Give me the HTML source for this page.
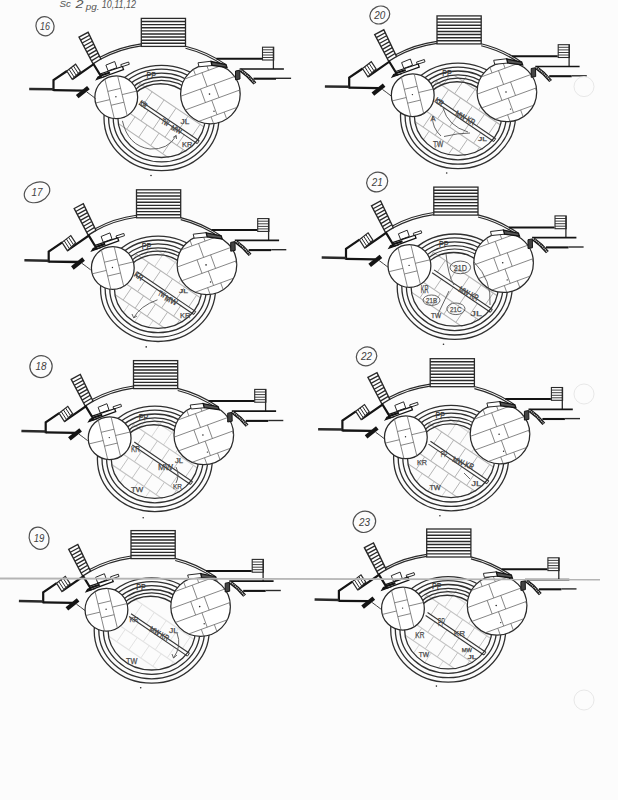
<!DOCTYPE html>
<html><head><meta charset="utf-8"><style>
html,body{margin:0;padding:0;background:#fcfcfc;}
svg{display:block;font-family:"Liberation Sans",sans-serif;}
</style></head><body>
<svg width="618" height="800" viewBox="0 0 618 800">
<rect width="618" height="800" fill="#fcfcfc"/>
<defs><g id="grid"><clipPath id="cI"><ellipse cx="161.5" cy="118.1" rx="43.7" ry="40.5"/></clipPath><g clip-path="url(#cI)"><line x1="90.89" y1="50.19" x2="239.76" y2="151.36" stroke="#b4b4b4" stroke-width="1.1" /><line x1="73.85" y1="75.25" x2="222.73" y2="176.42" stroke="#b4b4b4" stroke-width="1.1" /><line x1="65.42" y1="87.65" x2="214.30" y2="188.83" stroke="#b4b4b4" stroke-width="1.1" /><line x1="56.15" y1="26.58" x2="48.05" y2="38.49" stroke="#b4b4b4" stroke-width="1.0" /><line x1="68.14" y1="34.73" x2="60.05" y2="46.64" stroke="#b4b4b4" stroke-width="1.0" /><line x1="80.13" y1="42.88" x2="72.04" y2="54.79" stroke="#b4b4b4" stroke-width="1.0" /><line x1="92.13" y1="51.03" x2="84.03" y2="62.94" stroke="#b4b4b4" stroke-width="1.0" /><line x1="104.12" y1="59.18" x2="96.02" y2="71.09" stroke="#b4b4b4" stroke-width="1.0" /><line x1="116.11" y1="67.33" x2="108.02" y2="79.24" stroke="#b4b4b4" stroke-width="1.0" /><line x1="128.10" y1="75.48" x2="120.01" y2="87.39" stroke="#b4b4b4" stroke-width="1.0" /><line x1="140.10" y1="83.63" x2="132.00" y2="95.54" stroke="#b4b4b4" stroke-width="1.0" /><line x1="152.09" y1="91.78" x2="144.00" y2="103.69" stroke="#b4b4b4" stroke-width="1.0" /><line x1="164.08" y1="99.93" x2="155.99" y2="111.84" stroke="#b4b4b4" stroke-width="1.0" /><line x1="176.07" y1="108.08" x2="167.98" y2="119.99" stroke="#b4b4b4" stroke-width="1.0" /><line x1="188.07" y1="116.23" x2="179.97" y2="128.14" stroke="#b4b4b4" stroke-width="1.0" /><line x1="200.06" y1="124.38" x2="191.97" y2="136.29" stroke="#b4b4b4" stroke-width="1.0" /><line x1="212.05" y1="132.53" x2="203.96" y2="144.44" stroke="#b4b4b4" stroke-width="1.0" /><line x1="224.05" y1="140.68" x2="215.95" y2="152.59" stroke="#b4b4b4" stroke-width="1.0" /><line x1="236.04" y1="148.83" x2="227.94" y2="160.74" stroke="#b4b4b4" stroke-width="1.0" /><line x1="248.03" y1="156.98" x2="239.94" y2="168.89" stroke="#b4b4b4" stroke-width="1.0" /><line x1="260.02" y1="165.13" x2="251.93" y2="177.04" stroke="#b4b4b4" stroke-width="1.0" /><line x1="52.48" y1="44.88" x2="45.11" y2="55.71" stroke="#b4b4b4" stroke-width="1.0" /><line x1="64.47" y1="53.03" x2="57.11" y2="63.86" stroke="#b4b4b4" stroke-width="1.0" /><line x1="76.46" y1="61.18" x2="69.10" y2="72.01" stroke="#b4b4b4" stroke-width="1.0" /><line x1="88.45" y1="69.33" x2="81.09" y2="80.17" stroke="#b4b4b4" stroke-width="1.0" /><line x1="100.45" y1="77.48" x2="93.08" y2="88.32" stroke="#b4b4b4" stroke-width="1.0" /><line x1="112.44" y1="85.63" x2="105.08" y2="96.47" stroke="#b4b4b4" stroke-width="1.0" /><line x1="124.43" y1="93.78" x2="117.07" y2="104.62" stroke="#b4b4b4" stroke-width="1.0" /><line x1="136.43" y1="101.93" x2="129.06" y2="112.77" stroke="#b4b4b4" stroke-width="1.0" /><line x1="148.42" y1="110.08" x2="141.05" y2="120.92" stroke="#b4b4b4" stroke-width="1.0" /><line x1="160.41" y1="118.23" x2="153.05" y2="129.07" stroke="#b4b4b4" stroke-width="1.0" /><line x1="172.40" y1="126.38" x2="165.04" y2="137.22" stroke="#b4b4b4" stroke-width="1.0" /><line x1="184.40" y1="134.53" x2="177.03" y2="145.37" stroke="#b4b4b4" stroke-width="1.0" /><line x1="196.39" y1="142.68" x2="189.03" y2="153.52" stroke="#b4b4b4" stroke-width="1.0" /><line x1="208.38" y1="150.83" x2="201.02" y2="161.67" stroke="#b4b4b4" stroke-width="1.0" /><line x1="220.37" y1="158.98" x2="213.01" y2="169.82" stroke="#b4b4b4" stroke-width="1.0" /><line x1="232.37" y1="167.13" x2="225.00" y2="177.97" stroke="#b4b4b4" stroke-width="1.0" /><line x1="244.36" y1="175.28" x2="237.00" y2="186.12" stroke="#b4b4b4" stroke-width="1.0" /><line x1="256.35" y1="183.43" x2="248.99" y2="194.27" stroke="#b4b4b4" stroke-width="1.0" /><line x1="39.12" y1="51.64" x2="30.69" y2="64.05" stroke="#b4b4b4" stroke-width="1.0" /><line x1="51.11" y1="59.79" x2="42.68" y2="72.20" stroke="#b4b4b4" stroke-width="1.0" /><line x1="63.10" y1="67.94" x2="54.67" y2="80.35" stroke="#b4b4b4" stroke-width="1.0" /><line x1="75.09" y1="76.09" x2="66.66" y2="88.50" stroke="#b4b4b4" stroke-width="1.0" /><line x1="87.09" y1="84.24" x2="78.66" y2="96.65" stroke="#b4b4b4" stroke-width="1.0" /><line x1="99.08" y1="92.39" x2="90.65" y2="104.80" stroke="#b4b4b4" stroke-width="1.0" /><line x1="111.07" y1="100.54" x2="102.64" y2="112.95" stroke="#b4b4b4" stroke-width="1.0" /><line x1="123.07" y1="108.69" x2="114.63" y2="121.10" stroke="#b4b4b4" stroke-width="1.0" /><line x1="135.06" y1="116.84" x2="126.63" y2="129.25" stroke="#b4b4b4" stroke-width="1.0" /><line x1="147.05" y1="124.99" x2="138.62" y2="137.40" stroke="#b4b4b4" stroke-width="1.0" /><line x1="159.04" y1="133.14" x2="150.61" y2="145.55" stroke="#b4b4b4" stroke-width="1.0" /><line x1="171.04" y1="141.29" x2="162.60" y2="153.70" stroke="#b4b4b4" stroke-width="1.0" /><line x1="183.03" y1="149.44" x2="174.60" y2="161.85" stroke="#b4b4b4" stroke-width="1.0" /><line x1="195.02" y1="157.59" x2="186.59" y2="170.00" stroke="#b4b4b4" stroke-width="1.0" /><line x1="207.01" y1="165.74" x2="198.58" y2="178.15" stroke="#b4b4b4" stroke-width="1.0" /><line x1="219.01" y1="173.89" x2="210.58" y2="186.30" stroke="#b4b4b4" stroke-width="1.0" /><line x1="231.00" y1="182.04" x2="222.57" y2="194.45" stroke="#b4b4b4" stroke-width="1.0" /><line x1="242.99" y1="190.19" x2="234.56" y2="202.60" stroke="#b4b4b4" stroke-width="1.0" /></g></g><g id="grid2"><clipPath id="cI2"><ellipse cx="161.5" cy="118.1" rx="43.7" ry="40.5"/></clipPath><g clip-path="url(#cI2)"><line x1="99.32" y1="37.78" x2="248.19" y2="138.96" stroke="#b4b4b4" stroke-width="1.1" /><line x1="107.75" y1="25.37" x2="256.62" y2="126.55" stroke="#b4b4b4" stroke-width="1.1" /><line x1="56.99" y1="100.06" x2="205.87" y2="201.23" stroke="#b4b4b4" stroke-width="1.1" /><line x1="48.56" y1="112.47" x2="197.43" y2="213.64" stroke="#b4b4b4" stroke-width="1.1" /><line x1="81.44" y1="-10.64" x2="73.01" y2="1.77" stroke="#b4b4b4" stroke-width="1.0" /><line x1="93.43" y1="-2.49" x2="85.00" y2="9.92" stroke="#b4b4b4" stroke-width="1.0" /><line x1="105.43" y1="5.66" x2="97.00" y2="18.07" stroke="#b4b4b4" stroke-width="1.0" /><line x1="117.42" y1="13.81" x2="108.99" y2="26.22" stroke="#b4b4b4" stroke-width="1.0" /><line x1="129.41" y1="21.96" x2="120.98" y2="34.37" stroke="#b4b4b4" stroke-width="1.0" /><line x1="141.40" y1="30.11" x2="132.97" y2="42.52" stroke="#b4b4b4" stroke-width="1.0" /><line x1="153.40" y1="38.26" x2="144.97" y2="50.67" stroke="#b4b4b4" stroke-width="1.0" /><line x1="165.39" y1="46.41" x2="156.96" y2="58.82" stroke="#b4b4b4" stroke-width="1.0" /><line x1="177.38" y1="54.56" x2="168.95" y2="66.97" stroke="#b4b4b4" stroke-width="1.0" /><line x1="189.38" y1="62.71" x2="180.94" y2="75.12" stroke="#b4b4b4" stroke-width="1.0" /><line x1="201.37" y1="70.86" x2="192.94" y2="83.27" stroke="#b4b4b4" stroke-width="1.0" /><line x1="213.36" y1="79.01" x2="204.93" y2="91.42" stroke="#b4b4b4" stroke-width="1.0" /><line x1="225.35" y1="87.16" x2="216.92" y2="99.57" stroke="#b4b4b4" stroke-width="1.0" /><line x1="237.35" y1="95.31" x2="228.92" y2="107.72" stroke="#b4b4b4" stroke-width="1.0" /><line x1="249.34" y1="103.46" x2="240.91" y2="115.87" stroke="#b4b4b4" stroke-width="1.0" /><line x1="261.33" y1="111.61" x2="252.90" y2="124.02" stroke="#b4b4b4" stroke-width="1.0" /><line x1="273.32" y1="119.76" x2="264.89" y2="132.17" stroke="#b4b4b4" stroke-width="1.0" /><line x1="285.32" y1="127.91" x2="276.89" y2="140.32" stroke="#b4b4b4" stroke-width="1.0" /><line x1="79.01" y1="5.84" x2="70.58" y2="18.25" stroke="#b4b4b4" stroke-width="1.0" /><line x1="91.00" y1="13.99" x2="82.57" y2="26.40" stroke="#b4b4b4" stroke-width="1.0" /><line x1="102.99" y1="22.14" x2="94.56" y2="34.55" stroke="#b4b4b4" stroke-width="1.0" /><line x1="114.98" y1="30.29" x2="106.55" y2="42.70" stroke="#b4b4b4" stroke-width="1.0" /><line x1="126.98" y1="38.44" x2="118.55" y2="50.85" stroke="#b4b4b4" stroke-width="1.0" /><line x1="138.97" y1="46.59" x2="130.54" y2="59.00" stroke="#b4b4b4" stroke-width="1.0" /><line x1="150.96" y1="54.74" x2="142.53" y2="67.15" stroke="#b4b4b4" stroke-width="1.0" /><line x1="162.96" y1="62.89" x2="154.52" y2="75.30" stroke="#b4b4b4" stroke-width="1.0" /><line x1="174.95" y1="71.04" x2="166.52" y2="83.45" stroke="#b4b4b4" stroke-width="1.0" /><line x1="186.94" y1="79.19" x2="178.51" y2="91.60" stroke="#b4b4b4" stroke-width="1.0" /><line x1="198.93" y1="87.34" x2="190.50" y2="99.75" stroke="#b4b4b4" stroke-width="1.0" /><line x1="210.93" y1="95.49" x2="202.49" y2="107.90" stroke="#b4b4b4" stroke-width="1.0" /><line x1="222.92" y1="103.64" x2="214.49" y2="116.05" stroke="#b4b4b4" stroke-width="1.0" /><line x1="234.91" y1="111.79" x2="226.48" y2="124.20" stroke="#b4b4b4" stroke-width="1.0" /><line x1="246.90" y1="119.94" x2="238.47" y2="132.35" stroke="#b4b4b4" stroke-width="1.0" /><line x1="258.90" y1="128.09" x2="250.47" y2="140.50" stroke="#b4b4b4" stroke-width="1.0" /><line x1="270.89" y1="136.24" x2="262.46" y2="148.65" stroke="#b4b4b4" stroke-width="1.0" /><line x1="282.88" y1="144.40" x2="274.45" y2="156.80" stroke="#b4b4b4" stroke-width="1.0" /><line x1="70.58" y1="18.25" x2="62.14" y2="30.65" stroke="#b4b4b4" stroke-width="1.0" /><line x1="82.57" y1="26.40" x2="74.14" y2="38.80" stroke="#b4b4b4" stroke-width="1.0" /><line x1="94.56" y1="34.55" x2="86.13" y2="46.95" stroke="#b4b4b4" stroke-width="1.0" /><line x1="106.55" y1="42.70" x2="98.12" y2="55.10" stroke="#b4b4b4" stroke-width="1.0" /><line x1="118.55" y1="50.85" x2="110.11" y2="63.25" stroke="#b4b4b4" stroke-width="1.0" /><line x1="130.54" y1="59.00" x2="122.11" y2="71.40" stroke="#b4b4b4" stroke-width="1.0" /><line x1="142.53" y1="67.15" x2="134.10" y2="79.56" stroke="#b4b4b4" stroke-width="1.0" /><line x1="154.52" y1="75.30" x2="146.09" y2="87.71" stroke="#b4b4b4" stroke-width="1.0" /><line x1="166.52" y1="83.45" x2="158.09" y2="95.86" stroke="#b4b4b4" stroke-width="1.0" /><line x1="178.51" y1="91.60" x2="170.08" y2="104.01" stroke="#b4b4b4" stroke-width="1.0" /><line x1="190.50" y1="99.75" x2="182.07" y2="112.16" stroke="#b4b4b4" stroke-width="1.0" /><line x1="202.49" y1="107.90" x2="194.06" y2="120.31" stroke="#b4b4b4" stroke-width="1.0" /><line x1="214.49" y1="116.05" x2="206.06" y2="128.46" stroke="#b4b4b4" stroke-width="1.0" /><line x1="226.48" y1="124.20" x2="218.05" y2="136.61" stroke="#b4b4b4" stroke-width="1.0" /><line x1="238.47" y1="132.35" x2="230.04" y2="144.76" stroke="#b4b4b4" stroke-width="1.0" /><line x1="250.47" y1="140.50" x2="242.03" y2="152.91" stroke="#b4b4b4" stroke-width="1.0" /><line x1="262.46" y1="148.65" x2="254.03" y2="161.06" stroke="#b4b4b4" stroke-width="1.0" /><line x1="274.45" y1="156.80" x2="266.02" y2="169.21" stroke="#b4b4b4" stroke-width="1.0" /><line x1="36.68" y1="68.12" x2="28.25" y2="80.53" stroke="#b4b4b4" stroke-width="1.0" /><line x1="48.67" y1="76.27" x2="40.24" y2="88.68" stroke="#b4b4b4" stroke-width="1.0" /><line x1="60.67" y1="84.42" x2="52.24" y2="96.83" stroke="#b4b4b4" stroke-width="1.0" /><line x1="72.66" y1="92.57" x2="64.23" y2="104.98" stroke="#b4b4b4" stroke-width="1.0" /><line x1="84.65" y1="100.72" x2="76.22" y2="113.13" stroke="#b4b4b4" stroke-width="1.0" /><line x1="96.65" y1="108.87" x2="88.21" y2="121.28" stroke="#b4b4b4" stroke-width="1.0" /><line x1="108.64" y1="117.02" x2="100.21" y2="129.43" stroke="#b4b4b4" stroke-width="1.0" /><line x1="120.63" y1="125.17" x2="112.20" y2="137.58" stroke="#b4b4b4" stroke-width="1.0" /><line x1="132.62" y1="133.32" x2="124.19" y2="145.73" stroke="#b4b4b4" stroke-width="1.0" /><line x1="144.62" y1="141.47" x2="136.18" y2="153.88" stroke="#b4b4b4" stroke-width="1.0" /><line x1="156.61" y1="149.62" x2="148.18" y2="162.03" stroke="#b4b4b4" stroke-width="1.0" /><line x1="168.60" y1="157.77" x2="160.17" y2="170.18" stroke="#b4b4b4" stroke-width="1.0" /><line x1="180.59" y1="165.92" x2="172.16" y2="178.33" stroke="#b4b4b4" stroke-width="1.0" /><line x1="192.59" y1="174.07" x2="184.16" y2="186.48" stroke="#b4b4b4" stroke-width="1.0" /><line x1="204.58" y1="182.22" x2="196.15" y2="194.63" stroke="#b4b4b4" stroke-width="1.0" /><line x1="216.57" y1="190.37" x2="208.14" y2="202.78" stroke="#b4b4b4" stroke-width="1.0" /><line x1="228.56" y1="198.52" x2="220.13" y2="210.93" stroke="#b4b4b4" stroke-width="1.0" /><line x1="240.56" y1="206.67" x2="232.13" y2="219.08" stroke="#b4b4b4" stroke-width="1.0" /><line x1="22.25" y1="76.45" x2="13.82" y2="88.86" stroke="#b4b4b4" stroke-width="1.0" /><line x1="34.25" y1="84.60" x2="25.82" y2="97.01" stroke="#b4b4b4" stroke-width="1.0" /><line x1="46.24" y1="92.75" x2="37.81" y2="105.16" stroke="#b4b4b4" stroke-width="1.0" /><line x1="58.23" y1="100.90" x2="49.80" y2="113.31" stroke="#b4b4b4" stroke-width="1.0" /><line x1="70.22" y1="109.05" x2="61.79" y2="121.46" stroke="#b4b4b4" stroke-width="1.0" /><line x1="82.22" y1="117.20" x2="73.79" y2="129.61" stroke="#b4b4b4" stroke-width="1.0" /><line x1="94.21" y1="125.35" x2="85.78" y2="137.76" stroke="#b4b4b4" stroke-width="1.0" /><line x1="106.20" y1="133.50" x2="97.77" y2="145.91" stroke="#b4b4b4" stroke-width="1.0" /><line x1="118.20" y1="141.65" x2="109.76" y2="154.06" stroke="#b4b4b4" stroke-width="1.0" /><line x1="130.19" y1="149.80" x2="121.76" y2="162.21" stroke="#b4b4b4" stroke-width="1.0" /><line x1="142.18" y1="157.95" x2="133.75" y2="170.36" stroke="#b4b4b4" stroke-width="1.0" /><line x1="154.17" y1="166.10" x2="145.74" y2="178.51" stroke="#b4b4b4" stroke-width="1.0" /><line x1="166.17" y1="174.25" x2="157.74" y2="186.66" stroke="#b4b4b4" stroke-width="1.0" /><line x1="178.16" y1="182.40" x2="169.73" y2="194.81" stroke="#b4b4b4" stroke-width="1.0" /><line x1="190.15" y1="190.55" x2="181.72" y2="202.96" stroke="#b4b4b4" stroke-width="1.0" /><line x1="202.14" y1="198.70" x2="193.71" y2="211.11" stroke="#b4b4b4" stroke-width="1.0" /><line x1="214.14" y1="206.86" x2="205.71" y2="219.26" stroke="#b4b4b4" stroke-width="1.0" /><line x1="226.13" y1="215.01" x2="217.70" y2="227.41" stroke="#b4b4b4" stroke-width="1.0" /></g></g><g id="lower"><path d="M124.0,117.6 A36.5,33.8 0 0 1 197.0,117.6" fill="none" stroke="#303030" stroke-width="1.4"/><path d="M121.0,118.1 A40.5,37.8 0 0 1 202.0,118.1" fill="none" stroke="#303030" stroke-width="1.2"/><line x1="140.86" y1="101.19" x2="199.16" y2="140.82" stroke="#383838" stroke-width="1.15" /><line x1="138.94" y1="104.01" x2="197.25" y2="143.63" stroke="#383838" stroke-width="1.15" /><line x1="199.16" y1="140.82" x2="197.25" y2="143.63" stroke="#383838" stroke-width="1.0" /><ellipse cx="161.5" cy="118.00" rx="57.50" ry="52.70" fill="none" stroke="#303030" stroke-width="1.3"/><ellipse cx="161.5" cy="117.75" rx="52.90" ry="48.55" fill="none" stroke="#303030" stroke-width="1.3"/><ellipse cx="161.5" cy="117.50" rx="48.30" ry="44.40" fill="none" stroke="#303030" stroke-width="1.3"/><ellipse cx="161.5" cy="117.25" rx="43.70" ry="40.25" fill="none" stroke="#303030" stroke-width="1.3"/></g><g id="upper"><path d="M99.90,57.26 A120.0,120.0 0 0 1 141.30,43.83 M185.5,46.23 A120.0,120.0 0 0 1 226,64.62" fill="none" stroke="#2a2a2a" stroke-width="1.2"/><path d="M99.90,59.54 A118.0,118.0 0 0 1 141.30,45.85 M185.5,48.29 A118.0,118.0 0 0 1 226,67.08" fill="none" stroke="#2a2a2a" stroke-width="1.2"/><rect x="141.3" y="18.4" width="44.2" height="28" fill="#fff" stroke="#2a2a2a" stroke-width="1.3"/><line x1="141.30" y1="21.51" x2="185.50" y2="21.51" stroke="#2a2a2a" stroke-width="1.4" /><line x1="141.30" y1="24.62" x2="185.50" y2="24.62" stroke="#2a2a2a" stroke-width="1.4" /><line x1="141.30" y1="27.73" x2="185.50" y2="27.73" stroke="#2a2a2a" stroke-width="1.4" /><line x1="141.30" y1="30.84" x2="185.50" y2="30.84" stroke="#2a2a2a" stroke-width="1.4" /><line x1="141.30" y1="33.96" x2="185.50" y2="33.96" stroke="#2a2a2a" stroke-width="1.4" /><line x1="141.30" y1="37.07" x2="185.50" y2="37.07" stroke="#2a2a2a" stroke-width="1.4" /><line x1="141.30" y1="40.18" x2="185.50" y2="40.18" stroke="#2a2a2a" stroke-width="1.4" /><line x1="141.30" y1="43.29" x2="185.50" y2="43.29" stroke="#2a2a2a" stroke-width="1.4" /><polygon points="79.00,37.10 88.10,32.30 100.80,59.00 93.00,63.80" fill="#fff" stroke="#2a2a2a" stroke-width="1.4"/><line x1="80.56" y1="40.07" x2="89.51" y2="35.27" stroke="#2a2a2a" stroke-width="1.3" /><line x1="82.11" y1="43.03" x2="90.92" y2="38.23" stroke="#2a2a2a" stroke-width="1.3" /><line x1="83.67" y1="46.00" x2="92.33" y2="41.20" stroke="#2a2a2a" stroke-width="1.3" /><line x1="85.22" y1="48.97" x2="93.74" y2="44.17" stroke="#2a2a2a" stroke-width="1.3" /><line x1="86.78" y1="51.93" x2="95.16" y2="47.13" stroke="#2a2a2a" stroke-width="1.3" /><line x1="88.33" y1="54.90" x2="96.57" y2="50.10" stroke="#2a2a2a" stroke-width="1.3" /><line x1="89.89" y1="57.87" x2="97.98" y2="53.07" stroke="#2a2a2a" stroke-width="1.3" /><line x1="91.44" y1="60.83" x2="99.39" y2="56.03" stroke="#2a2a2a" stroke-width="1.3" /><polyline points="53.50,91.00 53.50,80.20 67.00,71.00" fill="none" stroke="#141414" stroke-width="2.2" stroke-linejoin="miter"/><polyline points="72.30,79.00 93.60,64.20 101.30,76.80" fill="none" stroke="#141414" stroke-width="2.2" stroke-linejoin="miter"/><polygon points="96.50,79.50 105.50,76.20 104.00,74.50 98.00,77.00" fill="#141414" stroke="#141414" stroke-width="1.2"/><line x1="29.20" y1="88.90" x2="53.50" y2="89.30" stroke="#2a2a2a" stroke-width="2.5" /><line x1="53.50" y1="90.20" x2="83.00" y2="90.60" stroke="#141414" stroke-width="2.3" /><polygon points="66.80,71.00 75.60,64.20 80.40,71.50 72.20,79.30" fill="#fff" stroke="#2a2a2a" stroke-width="1.2"/><line x1="69.00" y1="69.30" x2="74.25" y2="77.35" stroke="#2a2a2a" stroke-width="1.0" /><line x1="71.20" y1="67.60" x2="76.30" y2="75.40" stroke="#2a2a2a" stroke-width="1.0" /><line x1="73.40" y1="65.90" x2="78.35" y2="73.45" stroke="#2a2a2a" stroke-width="1.0" /><line x1="77.20" y1="96.60" x2="88.40" y2="87.60" stroke="#141414" stroke-width="4.2" /><path d="M86.7,91.9 Q91,95 95.5,98.5" fill="none" stroke="#2a2a2a" stroke-width="0.9"/><polygon points="105.90,65.10 114.70,61.50 116.80,67.70 108.10,70.90" fill="#fff" stroke="#2a2a2a" stroke-width="1.0"/><polygon points="120.80,64.60 128.60,62.00 129.30,64.30 121.50,66.90" fill="#fff" stroke="#2a2a2a" stroke-width="1.0"/><polygon points="100.00,74.00 122.50,66.50 123.50,69.50 101.50,77.50" fill="#fff" stroke="#141414" stroke-width="1.3"/><line x1="100.00" y1="75.80" x2="110.00" y2="72.50" stroke="#141414" stroke-width="2.2" /><polygon points="198.00,62.80 211.50,61.20 212.50,65.50 199.00,66.80" fill="#fff" stroke="#2a2a2a" stroke-width="1.0"/><polygon points="211.00,61.50 226.00,64.50 227.00,67.50 212.00,65.50" fill="#555" stroke="#141414" stroke-width="1.3"/><line x1="216.40" y1="58.70" x2="262.00" y2="58.70" stroke="#141414" stroke-width="2" /><rect x="262.5" y="47.2" width="11.2" height="12.8" fill="#fff" stroke="#2a2a2a" stroke-width="1.1"/><line x1="262.50" y1="49.80" x2="273.70" y2="49.80" stroke="#2a2a2a" stroke-width="0.9" /><line x1="262.50" y1="52.40" x2="273.70" y2="52.40" stroke="#2a2a2a" stroke-width="0.9" /><line x1="262.50" y1="55.00" x2="273.70" y2="55.00" stroke="#2a2a2a" stroke-width="0.9" /><line x1="262.50" y1="57.50" x2="273.70" y2="57.50" stroke="#2a2a2a" stroke-width="0.9" /><line x1="273.40" y1="47.20" x2="273.40" y2="69.00" stroke="#2a2a2a" stroke-width="1.3" /><line x1="239.60" y1="69.00" x2="283.90" y2="69.00" stroke="#141414" stroke-width="1.7" /><line x1="253.50" y1="78.70" x2="276.00" y2="78.70" stroke="#141414" stroke-width="2.1" /><line x1="276.00" y1="78.30" x2="291.10" y2="78.30" stroke="#2a2a2a" stroke-width="1.4" /><path d="M240.5,70 Q248.5,75.5 254.9,83.5" fill="none" stroke="#141414" stroke-width="3.6"/><path d="M240.5,70 Q248.5,75.5 254.9,83.5" fill="none" stroke="#bbb" stroke-width="1.4" stroke-dasharray="1.2,0.8"/><polygon points="235.50,71.00 239.80,70.20 240.00,79.00 235.50,79.80" fill="#444" stroke="#141414" stroke-width="1"/></g><g id="circ"><clipPath id="cL"><circle cx="116.25" cy="97.25" r="21.4"/></clipPath><clipPath id="cR"><circle cx="210.4" cy="94.0" r="29.8"/></clipPath><circle cx="116.25" cy="97.25" r="21.4" fill="#fff" stroke="#2a2a2a" stroke-width="1.25"/><g clip-path="url(#cL)"><line x1="102.59" y1="69.68" x2="116.59" y2="128.02" stroke="#686868" stroke-width="0.8" /><line x1="115.42" y1="66.60" x2="129.43" y2="124.94" stroke="#686868" stroke-width="0.8" /><line x1="107.80" y1="91.40" x2="120.64" y2="88.32" stroke="#686868" stroke-width="0.8" /><line x1="111.13" y1="105.27" x2="123.97" y2="102.19" stroke="#686868" stroke-width="0.8" /><line x1="87.27" y1="105.03" x2="109.78" y2="99.63" stroke="#686868" stroke-width="0.8" /><line x1="122.14" y1="94.60" x2="145.14" y2="89.08" stroke="#686868" stroke-width="0.8" /></g><circle cx="115.9" cy="96.7" r="0.7" fill="#2a2a2a"/><circle cx="210.4" cy="94.0" r="29.8" fill="#fff" stroke="#2a2a2a" stroke-width="1.25"/><g clip-path="url(#cR)"><line x1="164.97" y1="86.24" x2="240.09" y2="58.75" stroke="#686868" stroke-width="0.8" /><line x1="170.05" y1="100.14" x2="245.18" y2="72.65" stroke="#686868" stroke-width="0.8" /><line x1="175.02" y1="113.71" x2="250.15" y2="86.22" stroke="#686868" stroke-width="0.8" /><line x1="180.29" y1="128.12" x2="255.42" y2="100.63" stroke="#686868" stroke-width="0.8" /><line x1="190.44" y1="61.27" x2="195.49" y2="75.07" stroke="#686868" stroke-width="0.8" /><line x1="203.49" y1="56.49" x2="208.54" y2="70.30" stroke="#686868" stroke-width="0.8" /><line x1="163.20" y1="71.23" x2="168.25" y2="85.04" stroke="#686868" stroke-width="0.8" /><line x1="230.72" y1="46.52" x2="235.77" y2="60.33" stroke="#686868" stroke-width="0.8" /><line x1="202.01" y1="72.68" x2="207.10" y2="86.58" stroke="#686868" stroke-width="0.8" /><line x1="174.78" y1="82.65" x2="179.87" y2="96.55" stroke="#686868" stroke-width="0.8" /><line x1="229.25" y1="62.72" x2="234.33" y2="76.62" stroke="#686868" stroke-width="0.8" /><line x1="200.48" y1="89.01" x2="205.45" y2="102.58" stroke="#686868" stroke-width="0.8" /><line x1="214.04" y1="84.04" x2="219.01" y2="97.61" stroke="#686868" stroke-width="0.8" /><line x1="173.25" y1="98.97" x2="178.21" y2="112.54" stroke="#686868" stroke-width="0.8" /><line x1="241.27" y1="74.08" x2="246.24" y2="87.65" stroke="#686868" stroke-width="0.8" /><line x1="211.74" y1="100.27" x2="217.01" y2="114.69" stroke="#686868" stroke-width="0.8" /><line x1="184.50" y1="110.24" x2="189.78" y2="124.65" stroke="#686868" stroke-width="0.8" /><line x1="238.97" y1="90.31" x2="244.25" y2="104.72" stroke="#686868" stroke-width="0.8" /><line x1="211.10" y1="116.85" x2="216.15" y2="130.66" stroke="#686868" stroke-width="0.8" /><line x1="224.15" y1="112.08" x2="229.20" y2="125.88" stroke="#686868" stroke-width="0.8" /><line x1="183.86" y1="126.82" x2="188.91" y2="140.62" stroke="#686868" stroke-width="0.8" /><line x1="251.38" y1="102.11" x2="256.43" y2="115.91" stroke="#686868" stroke-width="0.8" /></g><circle cx="209.5" cy="94.1" r="0.8" fill="#2a2a2a"/><circle cx="214" cy="111.2" r="0.7" fill="#2a2a2a"/></g></defs><g transform="translate(0,0)"><g transform="translate(0,0)"><use href="#grid" opacity="1"/><use href="#lower"/><use href="#circ"/></g><use href="#upper"/><circle cx="151" cy="175.5" r="0.8" fill="#2a2a2a"/></g><g transform="translate(-4.8,171.4)"><g transform="translate(1.35,-0.6)"><use href="#grid" opacity="1"/><use href="#grid2" opacity="0.6"/><use href="#lower"/><use href="#circ"/></g><use href="#upper"/><circle cx="151" cy="175.5" r="0.8" fill="#2a2a2a"/></g><g transform="translate(-7.8,342.2)"><g transform="translate(1.2,-1.3)"><use href="#grid" opacity="0.8"/><use href="#grid2" opacity="0.5"/><use href="#lower"/><use href="#circ"/></g><use href="#upper"/><circle cx="151" cy="175.5" r="0.8" fill="#2a2a2a"/></g><g transform="translate(-10.3,512.2)"><g transform="translate(0.5,0.3)"><use href="#grid" opacity="0.35"/><use href="#lower"/><use href="#circ"/></g><use href="#upper"/><circle cx="151" cy="175.5" r="0.8" fill="#2a2a2a"/></g><g transform="translate(295.7,-2.5)"><g transform="translate(0.8,0.4)"><use href="#grid" opacity="1"/><use href="#grid2" opacity="1"/><use href="#lower"/><use href="#circ"/></g><use href="#upper"/><circle cx="151" cy="175.5" r="0.8" fill="#2a2a2a"/></g><g transform="translate(292.5,168.7)"><g transform="translate(0.7,0)"><use href="#grid" opacity="1"/><use href="#lower"/><use href="#circ"/></g><use href="#upper"/><circle cx="151" cy="175.5" r="0.8" fill="#2a2a2a"/></g><g transform="translate(288.9,340.3)"><g transform="translate(0.7,-0.2)"><use href="#grid" opacity="1"/><use href="#grid2" opacity="0.6"/><use href="#lower"/><use href="#circ"/></g><use href="#upper"/><circle cx="151" cy="175.5" r="0.8" fill="#2a2a2a"/></g><g transform="translate(285.4,510.6)"><g transform="translate(1.3,0.8)"><use href="#grid" opacity="0.8"/><use href="#grid2" opacity="0.5"/><use href="#lower"/><use href="#circ"/></g><use href="#upper"/><circle cx="151" cy="175.5" r="0.8" fill="#2a2a2a"/></g><ellipse cx="45" cy="26.2" rx="9" ry="9.7" fill="none" stroke="#505050" stroke-width="1.2" transform="rotate(-25 45 26.2)"/><text x="45" y="30.0" font-size="10.5" text-anchor="middle" fill="#404040" font-style="italic" textLength="9.9" lengthAdjust="spacingAndGlyphs">16</text><ellipse cx="37" cy="192.3" rx="13.3" ry="9.7" fill="none" stroke="#505050" stroke-width="1.2" transform="rotate(-25 37 192.3)"/><text x="37" y="196.10000000000002" font-size="10.5" text-anchor="middle" fill="#404040" font-style="italic" textLength="11.0" lengthAdjust="spacingAndGlyphs">17</text><ellipse cx="41" cy="366.6" rx="11.2" ry="10.9" fill="none" stroke="#505050" stroke-width="1.2" transform="rotate(-25 41 366.6)"/><text x="41" y="370.40000000000003" font-size="10.5" text-anchor="middle" fill="#404040" font-style="italic" textLength="11.0" lengthAdjust="spacingAndGlyphs">18</text><ellipse cx="39.1" cy="538.2" rx="9.7" ry="11.4" fill="none" stroke="#505050" stroke-width="1.2" transform="rotate(-25 39.1 538.2)"/><text x="39.1" y="542.0" font-size="10.5" text-anchor="middle" fill="#404040" font-style="italic" textLength="10.7" lengthAdjust="spacingAndGlyphs">19</text><ellipse cx="379.8" cy="15" rx="10.2" ry="8.7" fill="none" stroke="#505050" stroke-width="1.2" transform="rotate(-25 379.8 15)"/><text x="379.8" y="18.8" font-size="10.5" text-anchor="middle" fill="#404040" font-style="italic" textLength="11.0" lengthAdjust="spacingAndGlyphs">20</text><ellipse cx="377.2" cy="182" rx="10.7" ry="9.7" fill="none" stroke="#505050" stroke-width="1.2" transform="rotate(-25 377.2 182)"/><text x="377.2" y="185.8" font-size="10.5" text-anchor="middle" fill="#404040" font-style="italic" textLength="11.0" lengthAdjust="spacingAndGlyphs">21</text><ellipse cx="366.5" cy="356.4" rx="10.4" ry="9.25" fill="none" stroke="#505050" stroke-width="1.2" transform="rotate(-25 366.5 356.4)"/><text x="366.5" y="360.2" font-size="10.5" text-anchor="middle" fill="#404040" font-style="italic" textLength="11.0" lengthAdjust="spacingAndGlyphs">22</text><ellipse cx="364.4" cy="521.8" rx="11.4" ry="10.5" fill="none" stroke="#505050" stroke-width="1.2" transform="rotate(-25 364.4 521.8)"/><text x="364.4" y="525.5999999999999" font-size="10.5" text-anchor="middle" fill="#404040" font-style="italic" textLength="11.0" lengthAdjust="spacingAndGlyphs">23</text><text x="146.5" y="78.0" font-size="9.8" textLength="9.5" lengthAdjust="spacingAndGlyphs" fill="#3a3a3a" stroke="#3a3a3a" stroke-width="0.25">PP</text><text x="141.7" y="249.4" font-size="9.8" textLength="9.5" lengthAdjust="spacingAndGlyphs" fill="#3a3a3a" stroke="#3a3a3a" stroke-width="0.25">PP</text><text x="138.7" y="420.2" font-size="9.8" textLength="9.5" lengthAdjust="spacingAndGlyphs" fill="#3a3a3a" stroke="#3a3a3a" stroke-width="0.25">PP</text><text x="136.2" y="590.2" font-size="9.8" textLength="9.5" lengthAdjust="spacingAndGlyphs" fill="#3a3a3a" stroke="#3a3a3a" stroke-width="0.25">PP</text><text x="442.2" y="75.5" font-size="9.8" textLength="9.5" lengthAdjust="spacingAndGlyphs" fill="#3a3a3a" stroke="#3a3a3a" stroke-width="0.25">PP</text><text x="439.0" y="246.7" font-size="9.8" textLength="9.5" lengthAdjust="spacingAndGlyphs" fill="#3a3a3a" stroke="#3a3a3a" stroke-width="0.25">PP</text><text x="435.4" y="418.3" font-size="9.8" textLength="9.5" lengthAdjust="spacingAndGlyphs" fill="#3a3a3a" stroke="#3a3a3a" stroke-width="0.25">PP</text><text x="431.9" y="588.6" font-size="9.8" textLength="9.5" lengthAdjust="spacingAndGlyphs" fill="#3a3a3a" stroke="#3a3a3a" stroke-width="0.25">PP</text><text x="143.4" y="107.1" font-size="8.0" text-anchor="middle" textLength="8.0" lengthAdjust="spacingAndGlyphs" transform="rotate(35 143.4 104.2)" fill="#4a4a4a" stroke="#4a4a4a" stroke-width="0.35">KR</text><text x="165.3" y="125.1" font-size="8.0" text-anchor="middle" textLength="7.5" lengthAdjust="spacingAndGlyphs" transform="rotate(25 165.3 122.2)" fill="#4a4a4a" stroke="#4a4a4a" stroke-width="0.35">TW</text><text x="176.5" y="132.2" font-size="7.5" text-anchor="middle" textLength="11.0" lengthAdjust="spacingAndGlyphs" transform="rotate(25 176.5 129.5)" fill="#4a4a4a" stroke="#4a4a4a" stroke-width="0.35">MW</text><text x="180.6" y="123.7" font-size="6.8" textLength="8.7" lengthAdjust="spacingAndGlyphs" fill="#4a4a4a" stroke="#4a4a4a" stroke-width="0.25">JL</text><text x="182.0" y="147.0" font-size="6.9" textLength="10.2" lengthAdjust="spacingAndGlyphs" fill="#4a4a4a" stroke="#4a4a4a" stroke-width="0.25">KR</text><path d="M122.4,120.8 Q128,146 150,149 Q168,150 176,136" fill="none" stroke="#555" stroke-width="0.9"/><path d="M173,137.5 L176.2,135.3 L176.5,139" fill="none" stroke="#555" stroke-width="0.9"/><text x="439.3" y="104.6" font-size="8.0" text-anchor="middle" textLength="9.0" lengthAdjust="spacingAndGlyphs" transform="rotate(35 439.3 101.7)" fill="#4a4a4a" stroke="#4a4a4a" stroke-width="0.35">KR</text><text x="465.3" y="120.9" font-size="8.5" text-anchor="middle" textLength="21.0" lengthAdjust="spacingAndGlyphs" transform="rotate(28 465.3 117.8)" fill="#4a4a4a" stroke="#4a4a4a" stroke-width="0.35">MW KR</text><text x="430.4" y="121.0" font-size="7.4" textLength="5.1" lengthAdjust="spacingAndGlyphs" fill="#4a4a4a" stroke="#4a4a4a" stroke-width="0.25">A</text><text x="433.0" y="147.0" font-size="9.2" textLength="10.3" lengthAdjust="spacingAndGlyphs" fill="#4a4a4a" stroke="#4a4a4a" stroke-width="0.25">TW</text><text x="478.0" y="140.5" font-size="6.0" textLength="9.0" lengthAdjust="spacingAndGlyphs" fill="#4a4a4a" stroke="#4a4a4a" stroke-width="0.25">JL</text><path d="M441,136 Q432,128 432.5,116" fill="none" stroke="#555" stroke-width="0.9"/><path d="M444,136.5 Q458,133 470,133" fill="none" stroke="#555" stroke-width="0.9"/><path d="M443,108 Q448,126 468,132" fill="none" stroke="#555" stroke-width="0.9"/><text x="138.8" y="278.9" font-size="8.0" text-anchor="middle" textLength="9.0" lengthAdjust="spacingAndGlyphs" transform="rotate(35 138.8 276.0)" fill="#4a4a4a" stroke="#4a4a4a" stroke-width="0.35">KR</text><text x="162.0" y="296.9" font-size="8.0" text-anchor="middle" textLength="7.0" lengthAdjust="spacingAndGlyphs" transform="rotate(25 162.0 294.0)" fill="#4a4a4a" stroke="#4a4a4a" stroke-width="0.35">TW</text><text x="171.2" y="303.1" font-size="8.0" text-anchor="middle" textLength="13.0" lengthAdjust="spacingAndGlyphs" transform="rotate(25 171.2 300.2)" fill="#4a4a4a" stroke="#4a4a4a" stroke-width="0.35">MW</text><text x="179.0" y="293.0" font-size="5.3" textLength="9.0" lengthAdjust="spacingAndGlyphs" fill="#4a4a4a" stroke="#4a4a4a" stroke-width="0.25">JL</text><text x="180.0" y="318.0" font-size="8.0" textLength="10.3" lengthAdjust="spacingAndGlyphs" fill="#4a4a4a" stroke="#4a4a4a" stroke-width="0.25">KR</text><path d="M157.5,299.8 Q140,306 133.7,317.9" fill="none" stroke="#555" stroke-width="0.9"/><path d="M132,314 L133.7,317.9 L137,316" fill="none" stroke="#555" stroke-width="0.9"/><ellipse cx="460.3" cy="267.4" rx="10.3" ry="6.3" fill="none" stroke="#555" stroke-width="0.9"/><text x="453.7" y="271.2" font-size="8.8" textLength="13.2" lengthAdjust="spacingAndGlyphs" fill="#4a4a4a" stroke="#4a4a4a" stroke-width="0.25">21D</text><text x="420.8" y="293.0" font-size="10.3" textLength="7.9" lengthAdjust="spacingAndGlyphs" fill="#4a4a4a" stroke="#4a4a4a" stroke-width="0.25">KR</text><ellipse cx="431.5" cy="300.2" rx="8.5" ry="5.2" fill="none" stroke="#555" stroke-width="0.9"/><text x="426.1" y="303.3" font-size="7.2" textLength="10.9" lengthAdjust="spacingAndGlyphs" fill="#4a4a4a" stroke="#4a4a4a" stroke-width="0.25">21B</text><text x="431.0" y="318.0" font-size="6.9" textLength="10.0" lengthAdjust="spacingAndGlyphs" fill="#4a4a4a" stroke="#4a4a4a" stroke-width="0.25">TW</text><text x="468.8" y="296.6" font-size="8.5" text-anchor="middle" textLength="21.0" lengthAdjust="spacingAndGlyphs" transform="rotate(28 468.8 293.5)" fill="#4a4a4a" stroke="#4a4a4a" stroke-width="0.35">MW KR</text><ellipse cx="455.9" cy="308.8" rx="9.1" ry="5.8" fill="none" stroke="#555" stroke-width="0.9"/><text x="450.1" y="312.2" font-size="7.9" textLength="11.6" lengthAdjust="spacingAndGlyphs" fill="#4a4a4a" stroke="#4a4a4a" stroke-width="0.25">21C</text><text x="470.6" y="315.6" font-size="7.8" textLength="11.4" lengthAdjust="spacingAndGlyphs" fill="#4a4a4a" stroke="#4a4a4a" stroke-width="0.25">JL</text><path d="M446,254 Q448,275 454,285" fill="none" stroke="#555" stroke-width="0.9"/><path d="M449,291 L438,314" fill="none" stroke="#555" stroke-width="0.9"/><path d="M474,262 Q492,280 490,305" fill="none" stroke="#555" stroke-width="0.9"/><text x="131.0" y="451.6" font-size="9.1" textLength="9.0" lengthAdjust="spacingAndGlyphs" fill="#4a4a4a" stroke="#4a4a4a" stroke-width="0.25">KR</text><text x="158.0" y="469.8" font-size="9.2" textLength="15.0" lengthAdjust="spacingAndGlyphs" fill="#4a4a4a" stroke="#4a4a4a" stroke-width="0.25">MW</text><text x="175.0" y="463.0" font-size="6.6" textLength="8.0" lengthAdjust="spacingAndGlyphs" fill="#4a4a4a" stroke="#4a4a4a" stroke-width="0.25">JL</text><text x="173.0" y="489.0" font-size="7.8" textLength="9.0" lengthAdjust="spacingAndGlyphs" fill="#4a4a4a" stroke="#4a4a4a" stroke-width="0.25">KR</text><text x="131.0" y="492.4" font-size="7.8" textLength="12.4" lengthAdjust="spacingAndGlyphs" fill="#4a4a4a" stroke="#4a4a4a" stroke-width="0.25">TW</text><path d="M176,467 Q180,475 176,483" fill="none" stroke="#555" stroke-width="0.9"/><text x="129.4" y="621.6" font-size="7.8" textLength="9.0" lengthAdjust="spacingAndGlyphs" fill="#4a4a4a" stroke="#4a4a4a" stroke-width="0.25">KR</text><text x="159.3" y="636.4" font-size="8.0" text-anchor="middle" textLength="21.0" lengthAdjust="spacingAndGlyphs" transform="rotate(30 159.3 633.5)" fill="#4a4a4a" stroke="#4a4a4a" stroke-width="0.35">MW KR</text><text x="169.0" y="633.0" font-size="8.0" textLength="9.0" lengthAdjust="spacingAndGlyphs" fill="#4a4a4a" stroke="#4a4a4a" stroke-width="0.25">JL</text><text x="126.0" y="663.5" font-size="9.1" textLength="11.3" lengthAdjust="spacingAndGlyphs" fill="#4a4a4a" stroke="#4a4a4a" stroke-width="0.25">TW</text><path d="M177,633 Q182,646 173.5,658" fill="none" stroke="#555" stroke-width="0.9"/><path d="M172,654 L173.5,658 L177,655" fill="none" stroke="#555" stroke-width="0.9"/><text x="417.0" y="465.2" font-size="7.8" textLength="10.0" lengthAdjust="spacingAndGlyphs" fill="#4a4a4a" stroke="#4a4a4a" stroke-width="0.25">KR</text><text x="440.7" y="457.3" font-size="9.1" textLength="6.8" lengthAdjust="spacingAndGlyphs" fill="#4a4a4a" stroke="#4a4a4a" stroke-width="0.25">PP</text><text x="463.3" y="465.9" font-size="8.0" text-anchor="middle" textLength="22.0" lengthAdjust="spacingAndGlyphs" transform="rotate(22 463.3 463.0)" fill="#4a4a4a" stroke="#4a4a4a" stroke-width="0.35">MW KR</text><text x="429.4" y="490.1" font-size="6.4" textLength="11.3" lengthAdjust="spacingAndGlyphs" fill="#4a4a4a" stroke="#4a4a4a" stroke-width="0.25">TW</text><text x="471.3" y="485.6" font-size="7.8" textLength="10.2" lengthAdjust="spacingAndGlyphs" fill="#4a4a4a" stroke="#4a4a4a" stroke-width="0.25">JL</text><path d="M464,473 L470,479" fill="none" stroke="#555" stroke-width="0.9"/><text x="438.0" y="626.2" font-size="11.7" textLength="6.8" lengthAdjust="spacingAndGlyphs" fill="#4a4a4a" stroke="#4a4a4a" stroke-width="0.25">PP</text><text x="415.3" y="637.5" font-size="9.1" textLength="9.1" lengthAdjust="spacingAndGlyphs" fill="#4a4a4a" stroke="#4a4a4a" stroke-width="0.25">KR</text><text x="453.8" y="636.4" font-size="7.8" textLength="11.2" lengthAdjust="spacingAndGlyphs" fill="#4a4a4a" stroke="#4a4a4a" stroke-width="0.25">KR</text><text x="418.7" y="656.8" font-size="6.7" textLength="10.3" lengthAdjust="spacingAndGlyphs" fill="#4a4a4a" stroke="#4a4a4a" stroke-width="0.25">TW</text><text x="461.8" y="652.2" font-size="5.2" textLength="10.2" lengthAdjust="spacingAndGlyphs" fill="#4a4a4a" stroke="#4a4a4a" stroke-width="0.25">MW</text><text x="467.4" y="659.0" font-size="5.2" textLength="9.1" lengthAdjust="spacingAndGlyphs" fill="#4a4a4a" stroke="#4a4a4a" stroke-width="0.25">JL</text><text x="59.5" y="7" font-size="9.5" textLength="11.5" lengthAdjust="spacingAndGlyphs" fill="#555" font-style="italic">Sc</text><text x="75.5" y="7.5" font-size="10.5" textLength="8" lengthAdjust="spacingAndGlyphs" fill="#555" font-style="italic">2</text><text x="85.7" y="10" font-size="9" textLength="13.8" lengthAdjust="spacingAndGlyphs" fill="#555" font-style="italic">pg.</text><text x="101.7" y="8" font-size="10.5" textLength="34.3" lengthAdjust="spacingAndGlyphs" fill="#555" font-style="italic">10,11,12</text><line x1="0" y1="578.5" x2="600" y2="579.5" stroke="#b4b4b4" stroke-width="1.8"/><circle cx="584" cy="86.6" r="10" fill="none" stroke="#e8e8e8" stroke-width="1"/><circle cx="584" cy="394" r="10" fill="none" stroke="#e8e8e8" stroke-width="1"/><circle cx="584" cy="700" r="10" fill="none" stroke="#e8e8e8" stroke-width="1"/>
</svg></body></html>
